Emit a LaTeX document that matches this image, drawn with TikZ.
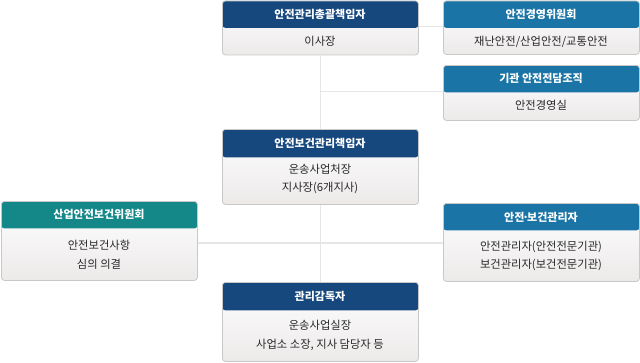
\documentclass[tikz,border=0pt]{standalone}
\usepackage{fontspec}
\setmainfont{Noto Sans CJK KR}
\definecolor{navy}{RGB}{22,72,126}
\definecolor{sky}{RGB}{26,116,166}
\definecolor{teal2}{RGB}{20,136,136}
\definecolor{linegray}{RGB}{230,230,230}
\definecolor{boxline}{RGB}{200,200,200}
\definecolor{bodyend}{RGB}{236,233,233}
\definecolor{txt}{RGB}{40,40,40}
\tikzset{
  orgbox/.style 2 args={draw=boxline, line width=0.8pt, rounded corners=3pt,
    anchor=north west, inner sep=0pt, fill=white,
    path picture={
      \shade[top color=white, bottom color=bodyend]
        (path picture bounding box.north west) rectangle (path picture bounding box.south east);
      \fill[#1] (path picture bounding box.north west) rectangle
        ([yshift=-#2 pt]path picture bounding box.north east);
    }},
  ttl/.style={text=white, font=\fontsize{11}{13}\selectfont\bfseries, inner sep=0pt},
  bdy/.style={text=txt, font=\fontsize{11.3}{18.5}\selectfont, inner sep=0pt, align=center},
  conn/.style={draw=linegray, line width=1.2pt},
}
\begin{document}
\begin{tikzpicture}[x=1pt,y=-1pt]
\useasboundingbox (0,0) rectangle (640,362);
% coordinates for connectors
\coordinate (c1) at (430,26.5);
\coordinate (c2) at (320,91.5);
\coordinate (c3) at (320,243);
% boxes
\node[orgbox={navy}{27}, minimum width=196pt, minimum height=54pt] (b1) at (222,0.5) {};
\node[orgbox={sky}{27}, minimum width=196pt, minimum height=53.5pt] (b2) at (443,0.5) {};
\node[orgbox={sky}{27}, minimum width=196pt, minimum height=55pt] (b3) at (443,65) {};
\node[orgbox={navy}{28}, minimum width=196pt, minimum height=75pt] (b4) at (222,129) {};
\node[orgbox={teal2}{27}, minimum width=196pt, minimum height=79pt] (b5) at (1,201) {};
\node[orgbox={sky}{27}, minimum width=196pt, minimum height=78pt] (b6) at (443,203) {};
\node[orgbox={navy}{28}, minimum width=196pt, minimum height=79pt] (b7) at (222,282) {};
% connectors
\draw[conn] (b1.south) -- (b4.north);
\draw[conn] (b4.south) -- (b7.north);
\draw[conn] (b1.east |- c1) -- (b2.west |- c1);
\draw[conn] (c2) -- (b3.west |- c2);
\draw[conn] (b5.east |- c3) -- (b6.west |- c3);
% texts
\node[ttl] (t1) at (320,14) {안전관리총괄책임자};
\node[bdy] (d1) at (320,41.5) {이사장};
\node[ttl] (t2) at (541,14) {안전경영위원회};
\node[bdy] (d2) at (541,41.5) {재난안전/산업안전/교통안전};
\node[ttl] (t3) at (541,78.5) {기관 안전전담조직};
\node[bdy] (d3) at (541,105.5) {안전경영실};
\node[ttl] (t4) at (320,143) {안전보건관리책임자};
\node[bdy] (d4) at (320,179) {운송사업처장\\지사장(6개지사)};
\node[ttl] (t5) at (99,214.5) {산업안전보건위원회};
\node[bdy] (d5) at (99,254.5) {안전보건사항\\심의 의결};
\node[ttl] (t6) at (541,217) {안전\kern-0.18em·\kern-0.18em보건관리자};
\node[bdy] (d6) at (541,256) {안전관리자(안전전문기관)\\보건관리자(보건전문기관)};
\node[ttl] (t7) at (320,296.5) {관리감독자};
\node[bdy] (d7) at (320,335.5) {운송사업실장\\사업소 소장, 지사 담당자 등};
\end{tikzpicture}
\end{document}
